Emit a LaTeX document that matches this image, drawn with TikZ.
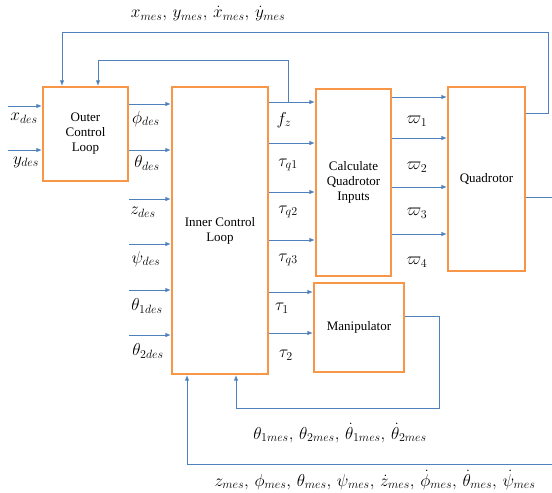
\documentclass[tikz,border=0pt]{standalone}
\usepackage{fontspec}
\setmainfont{Liberation Serif}
\usetikzlibrary{arrows.meta}
\definecolor{boxorange}{HTML}{F79646}
\definecolor{lineblue}{HTML}{4F81BD}
\begin{document}
\begin{tikzpicture}[x=1pt,y=-1pt,
  blk/.style={draw=boxorange, line width=2.2pt, fill=white, inner sep=0pt, align=center,
              font=\fontsize{13}{15}\selectfont},
  arr/.style={draw=lineblue, line width=0.9pt, -{Latex[length=5.5pt,width=4.5pt]}},
  ln/.style={draw=lineblue, line width=0.9pt},
  lbl/.style={inner sep=0pt, font=\fontsize{18.5}{22}\selectfont}]
\useasboundingbox (0,0) rectangle (552,493);

% blocks
\node[blk, minimum width=85pt, minimum height=94pt] (outer) at (85.5,134) {Outer\\Control\\Loop};
\node[blk, minimum width=96pt, minimum height=287pt] (inner) at (220,230.5) {Inner Control\\Loop};
\node[blk, minimum width=75pt, minimum height=187pt] (calc) at (353.5,182.5) {Calculate\\Quadrotor\\Inputs};
\node[blk, minimum width=77pt, minimum height=184pt] (quad) at (486.5,179) {Quadrotor};
\node[blk, minimum width=90pt, minimum height=89pt] (manip) at (359,327.5) {Manipulator};

% free-end coordinates
\coordinate (xin) at (8,106);
\coordinate (yin) at (8,150);
\coordinate (phiy) at (0,104);
\coordinate (thy) at (0,150);
\coordinate (zin) at (129,199);
\coordinate (psiin) at (129,244);
\coordinate (t1in) at (129,290);
\coordinate (t2in) at (129,335);
\coordinate (fzy) at (0,102);
\coordinate (q1y) at (0,143);
\coordinate (q2y) at (0,192);
\coordinate (q3y) at (0,240);
\coordinate (ta1y) at (0,292);
\coordinate (ta2y) at (0,333);
\coordinate (w1y) at (0,97);
\coordinate (w2y) at (0,138);
\coordinate (w3y) at (0,187);
\coordinate (w4y) at (0,234);
\coordinate (qo1) at (548,113);
\coordinate (qo1t) at (548,32);
\coordinate (ofb1) at (62,32);
\coordinate (fzv) at (288,102);
\coordinate (fzt) at (288,60);
\coordinate (ofb2) at (98,60);
\coordinate (qo2) at (552,197);
\coordinate (bot1) at (552,464);
\coordinate (bot2) at (187,464);
\coordinate (mo1) at (439,316);
\coordinate (mo2) at (439,408);
\coordinate (mo3) at (236,408);

% inputs to outer loop
\draw[arr] (xin) -- (xin -| outer.west);
\draw[arr] (yin) -- (yin -| outer.west);
% outer -> inner
\draw[arr] (outer.east |- phiy) -- (inner.west |- phiy);
\draw[arr] (outer.east |- thy) -- (inner.west |- thy);
% other inputs to inner
\draw[arr] (zin) -- (zin -| inner.west);
\draw[arr] (psiin) -- (psiin -| inner.west);
\draw[arr] (t1in) -- (t1in -| inner.west);
\draw[arr] (t2in) -- (t2in -| inner.west);
% inner -> calc
\draw[arr] (inner.east |- fzy) -- (calc.west |- fzy);
\draw[arr] (inner.east |- q1y) -- (calc.west |- q1y);
\draw[arr] (inner.east |- q2y) -- (calc.west |- q2y);
\draw[arr] (inner.east |- q3y) -- (calc.west |- q3y);
% inner -> manipulator
\draw[arr] (inner.east |- ta1y) -- (manip.west |- ta1y);
\draw[arr] (inner.east |- ta2y) -- (manip.west |- ta2y);
% calc -> quad
\draw[arr] (calc.east |- w1y) -- (quad.west |- w1y);
\draw[arr] (calc.east |- w2y) -- (quad.west |- w2y);
\draw[arr] (calc.east |- w3y) -- (quad.west |- w3y);
\draw[arr] (calc.east |- w4y) -- (quad.west |- w4y);
% feedbacks
\draw[arr] (quad.east |- qo1) -- (qo1) -- (qo1t) -- (ofb1) -- (ofb1 |- outer.north);
\draw[arr] (fzv) -- (fzt) -- (ofb2) -- (ofb2 |- outer.north);
\draw[ln] (quad.east |- qo2) -- (qo2);
\draw[arr] (bot1) -- (bot2) -- (bot2 |- inner.south);
\draw[arr] (manip.east |- mo1) -- (mo1) -- (mo2) -- (mo3) -- (mo3 |- inner.south);

% labels
\node[lbl] (lxd) at (24,118) {$x_{des}$};
\node[lbl] (lyd) at (26,162) {$y_{des}$};
\node[lbl] (lphd) at (146,119) {$\phi_{des}$};
\node[lbl] (lthd) at (147,163) {$\theta_{des}$};
\node[lbl] (lzd) at (143,212) {$z_{des}$};
\node[lbl] (lpsd) at (146,259) {$\psi_{des}$};
\node[lbl] (lt1d) at (147,306) {$\theta_{1des}$};
\node[lbl] (lt2d) at (148,351) {$\theta_{2des}$};
\node[lbl] (lfz) at (284,120) {$f_z$};
\node[lbl] (lq1) at (288,165) {$\tau_{q1}$};
\node[lbl] (lq2) at (288,212) {$\tau_{q2}$};
\node[lbl] (lq3) at (288,260) {$\tau_{q3}$};
\node[lbl] (lta1) at (282,308) {$\tau_1$};
\node[lbl] (lta2) at (286,355) {$\tau_2$};
\node[lbl] (lw1) at (417,121) {$\varpi_1$};
\node[lbl] (lw2) at (417,167) {$\varpi_2$};
\node[lbl] (lw3) at (417,213) {$\varpi_3$};
\node[lbl] (lw4) at (417,262) {$\varpi_4$};
\node[lbl] (lxmes) at (208,14) {$x_{mes},\,y_{mes},\,\dot{x}_{mes},\,\dot{y}_{mes}$};
\node[lbl] (ltmes) at (340,433) {$\theta_{1mes},\,\theta_{2mes},\,\dot{\theta}_{1mes},\,\dot{\theta}_{2mes}$};
\node[lbl] (lzmes) at (375,480) {$z_{mes},\,\phi_{mes},\,\theta_{mes},\,\psi_{mes},\,\dot{z}_{mes},\,\dot{\phi}_{mes},\,\dot{\theta}_{mes},\,\dot{\psi}_{mes}$};
\end{tikzpicture}
\end{document}
